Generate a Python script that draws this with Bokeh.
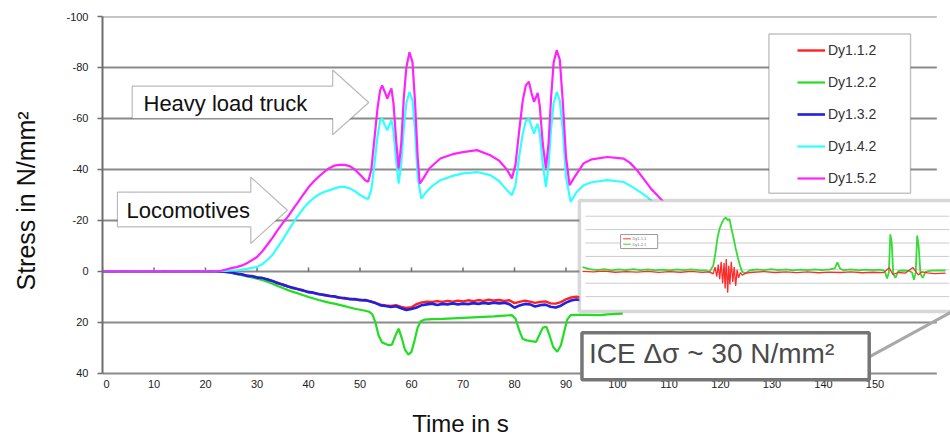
from bokeh.plotting import figure
from bokeh.models import (Range1d, FixedTicker, BoxAnnotation, PolyAnnotation, Label,
                          Legend, LegendItem, Arrow, Title)
from bokeh.core.properties import value
from bokeh.embed import file_html
from bokeh.resources import INLINE

FONT = "Liberation Sans"

# ---------------- data ----------------
x_ticks = [0, 10, 20, 30, 40, 50, 60, 70, 80, 90, 100, 110, 120, 130, 140, 150]
y_ticks = [-100, -80, -60, -40, -20, 0, 20, 40]

series_names = ["Dy1.1.2", "Dy1.2.2", "Dy1.3.2", "Dy1.4.2", "Dy1.5.2"]
series_colors = ["#ff2020", "#22dd22", "#2020e0", "#33ffff", "#ff22ff"]

# Dy1.1.2 (red) and Dy1.3.2 (blue): one value per second, t = 0..96
t_rb = list(range(0, 97))
red_vals = [
    0, 0.1, 0, 0.1, 0, -0.1, 0, 0.1, 0, 0,
    0.1, 0, 0.1, 0, -0.1, 0, 0, 0.1, 0, 0.1,
    0, 0, 0.1, 0, 0.1, 0.3, 0.8, 1.2, 1.5, 1.9,
    2.2, 2.7, 3.0, 3.8, 4.4, 5.3, 5.8, 6.6, 6.9, 7.6,
    8.0, 8.5, 8.8, 9.3, 9.5, 9.9, 10.2, 10.6, 10.7, 11.0,
    11.1, 11.4, 11.6, 12.3, 13.0, 13.3, 13.5, 13.2, 13.9, 14.3,
    14.0, 12.8, 12.1, 11.8, 11.9, 11.6, 11.9, 11.5, 11.8, 11.4,
    11.7, 11.3, 11.6, 11.2, 11.5, 11.1, 11.4, 11.2, 11.5, 11.3,
    12.4, 11.9, 11.4, 11.8, 12.3, 11.9, 11.7, 12.5, 12.6, 12.0,
    10.9, 10.2, 9.9, 10.3, 9.8, 10.1, 9.9]
blue_vals = [
    0.1, 0, 0.1, 0, -0.1, 0, 0.1, 0, 0.1, 0,
    0, 0.1, -0.1, 0, 0.1, 0, 0.1, 0, -0.1, 0,
    0.1, 0, 0.1, 0, 0.2, 0.4, 0.9, 1.1, 1.7, 1.8,
    2.4, 2.5, 3.1, 3.7, 4.6, 5.1, 5.9, 6.4, 7.0, 7.4,
    8.1, 8.3, 8.9, 9.1, 9.6, 9.7, 10.3, 10.4, 10.9, 10.8,
    11.3, 11.2, 11.8, 12.4, 13.3, 13.5, 13.9, 13.6, 14.4, 15.1,
    14.7, 14.1, 13.2, 12.9, 12.6, 13.1, 12.7, 12.9, 12.5, 12.9,
    12.6, 12.8, 12.4, 12.7, 12.3, 12.6, 12.2, 12.5, 12.3, 12.8,
    14.2, 13.3, 12.7, 12.9, 13.7, 13.2, 13.0, 13.8, 14.1, 13.4,
    12.2, 11.4, 11.0, 11.3, 10.9, 11.2, 10.9]

# Dy1.2.2 (green): (time, stress)
green_pts = [(0, 0), (10, 0), (20, 0), (24, 0.1), (25, 0.5), (26, 1), (27, 1.4), (28, 1.8),
             (29, 2.3), (30, 2.8), (31, 3.3), (32, 4), (33, 4.8), (34, 5.7), (35, 6.5),
             (36, 7.3), (37, 8), (38, 8.6), (39, 9.3), (40, 10), (41, 10.6), (42, 11.2),
             (43, 11.7), (44, 12.2), (45, 12.6), (46, 13.1), (47, 13.6), (48, 14.1),
             (49, 14.6), (50, 15), (51, 15.4), (51.8, 15.8), (52.4, 16.8), (53, 20),
             (53.6, 25), (54.3, 27.8), (55, 28.4), (55.6, 28.9), (56.2, 28.7), (56.8, 25.5),
             (57.5, 22.4), (58.1, 26), (58.7, 30.5), (59.4, 32.6), (60, 31.5), (60.6, 27),
             (61.2, 22), (61.8, 19.5), (62.5, 18.9), (64, 18.7), (66, 18.6), (68, 18.4),
             (70, 18.2), (72, 18), (74, 17.8), (76, 17.6), (78, 17.3), (79.5, 17.1),
             (80.2, 18.5), (80.9, 23), (81.6, 26.5), (82.4, 27), (83.2, 27.3), (84.2, 27.6),
             (84.8, 25), (85.5, 22), (86.2, 21.7), (86.8, 25), (87.5, 29.5), (88.3, 31.5),
             (89, 29), (89.6, 24), (90.2, 19), (90.9, 17.1), (92, 17), (94, 17),
             (96.7, 17.1), (98, 16.8), (100, 16.6), (101, 16.5)]

# Dy1.4.2 (cyan)
cyan_pts = [(0, 0), (5, 0), (10, 0), (15, 0), (20, 0), (22, 0), (24, -0.2), (26, -0.5),
            (28, -1), (30, -1.8), (31, -2.8), (32, -4.5), (33, -6.5), (34, -9.5),
            (35, -12.5), (36, -15.8), (37, -19), (38, -22), (39, -24.7), (40, -27),
            (41, -28.8), (42, -30.2), (43, -31.2), (44, -31.8), (45, -32.5), (46, -33.2),
            (47, -33.2), (48, -32.6), (49, -31.5), (50, -30), (51, -28.8), (51.6, -28.5),
            (52.2, -32), (52.8, -42), (53.4, -53), (53.9, -59), (54.3, -60), (54.8, -57.5),
            (55.3, -55.4), (55.7, -57.5), (56.1, -59.3), (56.5, -55), (57, -44),
            (57.5, -34.5), (58, -42), (58.5, -56), (59, -66), (59.6, -70.4), (60.2, -67),
            (60.7, -55), (61.2, -37), (61.9, -28.6), (62.8, -31), (64, -33.5),
            (65.6, -35.8), (68, -37.5), (70, -38.5), (72.7, -39), (75.3, -37.8),
            (77, -35.5), (78.5, -32), (79.5, -29.9), (80.2, -34), (80.9, -45), (81.6, -54),
            (82.2, -59), (82.8, -60), (83.3, -57), (83.8, -54.1), (84.2, -56.5),
            (84.5, -58), (84.9, -54), (85.5, -42), (86.1, -33.2), (86.6, -41),
            (87.1, -56), (87.6, -66), (88.2, -70.4), (88.8, -67), (89.4, -55), (90, -37),
            (90.9, -27.3), (92, -31), (93.4, -33.8), (95, -35), (98, -35.8),
            (101.2, -35.1), (103, -33), (104.5, -31), (105.7, -29.3), (107, -27),
            (108.5, -24), (110, -21)]

# Dy1.5.2 (magenta)
mag_pts = [(0, 0), (5, 0), (10, 0), (15, 0), (20, 0), (22, 0), (23, -0.3), (24, -0.8),
           (25, -1.3), (26, -1.7), (27, -2.3), (28, -3.2), (29, -4.4), (30, -5.7),
           (31, -7.8), (32, -10.5), (33, -13.2), (34, -16.2), (35, -19), (36, -21.5),
           (37, -24.5), (38, -27.3), (39, -30.2), (40, -33), (41, -35.3), (42, -37.2),
           (43, -39), (44, -40.5), (45, -41.5), (46, -41.8), (47, -41.8), (48, -41.3),
           (49, -40), (50, -38), (51, -35.8), (51.6, -35.2), (52.2, -40), (52.8, -52),
           (53.4, -64), (53.9, -71), (54.3, -73), (54.8, -70.5), (55.3, -67.8),
           (55.7, -70), (56.1, -71.8), (56.5, -66), (57, -52), (57.5, -40.4), (58, -50),
           (58.5, -68), (59, -80), (59.6, -86), (60.2, -82), (60.7, -66), (61.2, -45),
           (61.6, -34.5), (62.3, -36.5), (63.5, -40.5), (65.6, -44.3), (68, -46),
           (70, -46.8), (72.7, -47.6), (75.3, -45.6), (77, -43.5), (78.5, -40),
           (79.5, -36.5), (80.2, -42), (80.9, -55), (81.6, -67), (82.2, -73),
           (82.8, -74.4), (83.3, -70), (83.8, -66.5), (84.2, -68.5), (84.5, -70),
           (84.9, -65), (85.5, -50), (86.1, -40.4), (86.6, -50), (87.1, -68), (87.6, -82),
           (88.2, -86.8), (88.8, -83), (89.4, -66), (90, -45), (90.7, -33.8),
           (91.5, -36.5), (93.4, -42.4), (95, -44), (98, -44.9), (101.2, -44.3),
           (102.5, -42.5), (103.8, -39.7), (105, -36.5), (106.5, -32.5), (108, -29.3),
           (109.5, -26), (112, -21)]

# inset chart (ICE passage), its own time/stress units
inset_grid = [-40, -30, -20, -10, 0, 10, 20]
inset_names = ["Dy1.1.1", "Dy1.2.1"]
inset_green = [(0, -2), (2, -0.5), (4, 0.3), (6, -0.6), (8, 0.4), (10, -0.3), (12, 0.2),
               (14, -0.5), (16, 0.3), (18, -0.4), (20, 0.4), (22, -0.2), (24, 0.5),
               (26, -0.3), (28, 0.2), (30, -0.4), (32, 0.3), (34, 0.5), (35, 1.5), (36, -3),
               (36.6, -12), (37.2, -24), (37.8, -31), (38.4, -35), (39, -38), (39.5, -39),
               (40, -37), (40.5, -38), (41, -31), (41.6, -24), (42.2, -16), (42.8, -9),
               (43.4, -3), (44, 1.5), (45, 2.5), (46, 0.5), (48, -0.4), (50, 0.3),
               (52, -0.5), (54, 0.2), (56, -0.3), (58, 0.4), (60, -0.2), (62, 0.3),
               (64, -0.4), (66, 0.2), (68, -0.3), (69.5, -1), (70.2, -5.5), (71, -0.8),
               (72, 0.3), (74, -0.3), (76, 0.4), (78, -0.2), (80, 0.3), (82, -0.1),
               (83.3, 1), (83.9, 6.5), (84.4, 2), (84.8, -26.5), (85.2, -20), (85.6, 3),
               (86.2, 6), (87, 1), (88, 0.5), (90, 0.8), (90.8, 2), (91.3, 7.5), (91.8, 2),
               (92.2, -25.5), (92.6, -18), (93.1, 3), (93.7, 6), (94.5, 1.5), (96, 0.6),
               (98, 0.4), (100, 0.5)]
inset_red = [(0, 1.2), (3, 1.6), (6, 1.0), (9, 1.8), (12, 1.3), (15, 1.7), (18, 1.1),
             (21, 1.9), (24, 1.4), (27, 1.8), (30, 1.2), (33, 1.9), (35, 1.5), (36, 3),
             (36.5, -2), (37, 5), (37.4, -4), (37.8, 7), (38.2, -6), (38.6, 10), (39, -5),
             (39.3, 14), (39.6, -8), (40, 17), (40.3, -3), (40.6, 11), (41, -6), (41.4, 9),
             (41.8, -2), (42.2, 12), (42.6, 0), (43, 6), (43.5, 2), (44, 4), (45, 2.5),
             (47, 1.8), (50, 1.3), (53, 2.0), (56, 1.5), (59, 2.1), (62, 1.6), (65, 2.2),
             (68, 1.7), (71, 2.0), (74, 1.6), (77, 2.2), (80, 1.8), (83, 2.1), (84.5, -1.5),
             (85.5, 3.5), (87, 2.0), (89, 2.4), (91, -1.8), (92.5, 3.8), (93.5, 1.5),
             (95, 2.3), (97, 2.8), (100, 2.5)]

# ---------------- figure ----------------
p = figure(width=950, height=437, output_backend="svg", toolbar_location=None,
           x_range=Range1d(0, 164.66), y_range=Range1d(65.1, -100),
           min_border_left=102, min_border_right=0, min_border_top=16, min_border_bottom=0)
p.outline_line_color = None
p.background_fill_color = "white"
p.border_fill_color = "white"
p.extra_x_ranges = {"ix": Range1d(-132.23, 101.38)}
p.extra_y_ranges = {"iy": Range1d(125.1, -189.0)}
p.xgrid.visible = False
p.ygrid.visible = False
p.below = []   # x tick labels and title are drawn inside the (tall) frame below

# y axis
p.yaxis.ticker = FixedTicker(ticks=y_ticks)
p.yaxis.major_label_overrides = {v: str(v) for v in y_ticks}
p.yaxis.bounds = (-100, 40)
p.yaxis.minor_tick_line_color = None
p.yaxis.major_label_text_font = FONT
p.yaxis.major_label_text_font_size = "11px"
p.yaxis.major_label_text_color = "#222222"
p.yaxis.axis_line_color = "#6e6e6e"
p.yaxis.axis_line_width = 2
p.yaxis.major_tick_line_color = "#6e6e6e"
p.yaxis.major_tick_line_width = 1.5
p.yaxis.major_tick_out = 5
p.yaxis.major_tick_in = 0
p.yaxis.major_label_standoff = 9
# blank spacer between the tick labels and the rotated y title
p.add_layout(Title(text=" ", standoff=0, text_font=FONT, text_font_size="20px"), "left")
p.add_layout(Title(text="Stress in N/mm²", align="left", offset=147, standoff=0,
                   text_font=FONT, text_font_size="25px", text_font_style="normal",
                   text_color="#111111"), "left")

# x tick labels and x title
label_dx = [4 if t == 0 else 0 for t in x_ticks]
p.text(x=x_ticks, y=[44.1] * len(x_ticks), text=[str(t) for t in x_ticks],
       x_offset=label_dx, text_font=value(FONT), text_font_size="11px",
       text_align="center", text_baseline="middle", text_color="#222222")
p.add_layout(Label(x=69.5, y=59.6, text="Time in s", text_font=FONT,
                   text_font_size="24px", text_align="center", text_baseline="middle",
                   text_color="#111111"))

# horizontal grid lines (stop short of the right edge, like the original)
ng = len(y_ticks)
p.segment(x0=[0] * ng, x1=[162] * ng, y0=y_ticks, y1=y_ticks,
          line_color="#8a8a8a", line_width=1.8, level="image")

# block arrows with captions (under the data lines)
p.add_layout(PolyAnnotation(xs=[5.77, 44.7, 44.7, 51.7, 44.7, 44.7, 5.77],
                            ys=[-72.7, -72.7, -79, -66.3, -53.6, -60, -60],
                            fill_color="white", fill_alpha=1, line_color="#1a1a1a",
                            line_width=1.2, level="underlay"))
p.add_layout(PolyAnnotation(xs=[2.9, 28.8, 28.8, 35.9, 28.8, 28.8, 2.9],
                            ys=[-31.1, -31.1, -37, -24, -11, -17.5, -17.5],
                            fill_color="white", fill_alpha=1, line_color="#1a1a1a",
                            line_width=1.2, level="underlay"))
p.add_layout(Label(x=7.96, y=-65.8, text="Heavy load truck", text_font=FONT,
                   text_font_size="22px", text_baseline="middle", text_color="#111111",
                   level="underlay"))
p.add_layout(Label(x=4.66, y=-24.0, text="Locomotives", text_font=FONT,
                   text_font_size="22px", text_baseline="middle", text_color="#111111",
                   level="underlay"))

# small tick marks on the zero line
p.segment(x0=x_ticks, y0=[0] * len(x_ticks), x1=x_ticks, y1=[-1.6] * len(x_ticks),
          line_color="#707070", line_width=1.5)

# data lines
def split(pts):
    return [a for a, b in pts], [b for a, b in pts]

gx, gy = split(green_pts)
cx, cy = split(cyan_pts)
mx, my = split(mag_pts)
r_red = p.line(t_rb, red_vals, line_color=series_colors[0], line_width=2.4)
r_green = p.line(gx, gy, line_color=series_colors[1], line_width=2.2)
r_blue = p.line(t_rb, blue_vals, line_color=series_colors[2], line_width=2.6)
r_cyan = p.line(cx, cy, line_color=series_colors[3], line_width=2.2)
r_mag = p.line(mx, my, line_color=series_colors[4], line_width=2.2)
rends = [r_red, r_green, r_blue, r_cyan, r_mag]

# legend frame + legend
p.add_layout(BoxAnnotation(left=129.4, right=156.9, top=-93.1, bottom=-30.7,
                           fill_color="white", fill_alpha=1, line_color="#3a3a3a",
                           line_width=1.5))
legend = Legend(items=[LegendItem(label=n, renderers=[r]) for n, r in zip(series_names, rends)],
                location=(695, 249), padding=0, margin=0, spacing=12,
                glyph_width=28, glyph_height=20, label_height=20, label_standoff=3,
                label_text_font=FONT, label_text_font_size="14px",
                label_text_color="#333333", border_line_color=None,
                background_fill_alpha=0)
p.add_layout(legend, "center")

# inset frame
p.add_layout(BoxAnnotation(left=92.6, right=170, top=-27.8, bottom=15.7,
                           fill_color="white", fill_alpha=1, line_color="#7f7f7f",
                           line_width=3.5))
# leader line + callout box with its text
p.add_layout(Arrow(end=None, x_start=148.8, y_start=33.6, x_end=164.7, y_end=16.0,
                   line_color="#a8a8a8", line_width=3))
p.add_layout(Label(x=93.1, y=33.2, text="ICE Δσ ~ 30 N/mm²", text_font=FONT,
                   text_font_size="28px", text_baseline="middle", text_color="#4a4a4a",
                   padding=(7, 35, 5, 11), background_fill_color="white",
                   background_fill_alpha=1, border_line_color="#767676",
                   border_line_width=3.5))

# inset contents
n = len(inset_grid)
p.segment(x0=[0.8] * n, x1=[101] * n, y0=inset_grid, y1=inset_grid,
          x_range_name="ix", y_range_name="iy", line_color="#cccccc", line_width=1,
          level="overlay")
igx, igy = split(inset_green)
irx, iry = split(inset_red)
p.line(igx, igy, x_range_name="ix", y_range_name="iy", line_color="#33dd33",
       line_width=1.8, level="overlay")
p.line(irx, iry, x_range_name="ix", y_range_name="iy", line_color="#ff2a2a",
       line_width=1.3, level="overlay")
# tiny inset legend
p.quad(left=[100.6], right=[107.8], top=[-14.5], bottom=[-9.0], fill_color="white",
       line_color="#9a9a9a", line_width=1, level="overlay")
p.segment(x0=[101.1, 101.1], x1=[102.6, 102.6], y0=[-12.8, -10.7], y1=[-12.8, -10.7],
          line_color=["#ff3030", "#33dd33"], line_width=1, level="overlay")
p.text(x=[102.9, 102.9], y=[-12.8, -10.7], text=inset_names, text_font=value(FONT),
       text_font_size="4px", text_baseline="middle", text_color="#777777",
       level="overlay")

open("out.html", "w").write(file_html(p, INLINE, "chart"))
